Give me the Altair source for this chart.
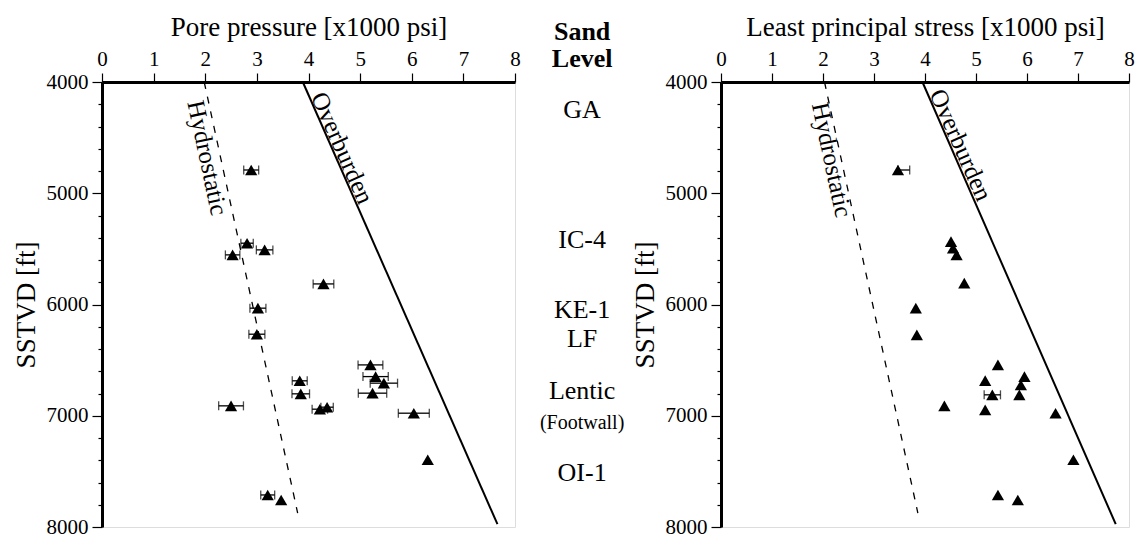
import altair as alt
import pandas as pd

# ---------------- data ----------------
# Left panel: pore pressure [x1000 psi] vs depth [ft]
pp_depth = [4791, 5449, 5509, 5554, 5815, 6033, 6267, 6543, 6648, 6686,
            6707, 6797, 6803, 6911, 6923, 6941, 6977, 7396, 7712, 7757]
pp_value = [2.89, 2.81, 3.15, 2.53, 4.29, 3.02, 3.00, 5.20, 5.30, 3.83,
            5.46, 5.24, 3.85, 2.50, 4.36, 4.22, 6.04, 6.31, 3.21, 3.47]
pp_err = [0.145, 0.12, 0.16, 0.14, 0.20, 0.155, 0.155, 0.24, 0.245, 0.145,
          0.265, 0.275, 0.17, 0.24, 0.12, 0.15, 0.30, 0.0, 0.135, 0.0]

# Right panel: least principal stress [x1000 psi] vs depth [ft]
ls_depth = [4791, 5435, 5494, 5554, 5808, 6033, 6273, 6543, 6648, 6684,
            6723, 6812, 6812, 6911, 6947, 6977, 7396, 7712, 7757]
ls_value = [3.47, 4.51, 4.55, 4.62, 4.77, 3.82, 3.84, 5.43, 5.95, 5.18,
            5.88, 5.85, 5.32, 4.38, 5.18, 6.56, 6.91, 5.43, 5.82]
ls_err_minus = [0.0, 0, 0, 0, 0, 0, 0, 0, 0, 0, 0, 0, 0.16, 0, 0, 0, 0, 0, 0]
ls_err_plus = [0.23, 0, 0, 0, 0, 0, 0, 0, 0, 0, 0, 0, 0.16, 0, 0, 0, 0, 0, 0]

# Reference gradient lines
line_names = ["Hydrostatic", "Hydrostatic", "Overburden", "Overburden"]
line_depth = [4000, 7875, 4000, 7975]
left_line_x = [1.98, 3.79, 3.89, 7.66]
right_line_x = [2.03, 3.86, 3.95, 7.74]

# Line labels
label_text = ["Hydrostatic", "Overburden"]
label_angle = [78, 66]
left_label_x = [2.04, 4.65]
left_label_depth = [4683, 4593]
right_label_x = [2.17, 4.70]
right_label_depth = [4700, 4566]

# Sand level column
sand_labels = ["Sand", "Level", "GA", "IC-4", "KE-1", "LF", "Lentic", "(Footwall)", "OI-1"]
sand_depth = [3548, 3793, 4252, 5420, 6050, 6310, 6782, 7067, 7516]
sand_kind = ["head", "head", "name", "name", "name", "name", "name", "small", "name"]
sand_x = 9.3

# ---------------- tables ----------------
pp = pd.DataFrame({"x": pp_value, "depth": pp_depth, "err": pp_err})
pp["lo"] = pp["x"] - pp["err"]
pp["hi"] = pp["x"] + pp["err"]
pp_bars = pp[pp["err"] > 0]

ls = pd.DataFrame({"x": ls_value, "depth": ls_depth,
                   "em": ls_err_minus, "ep": ls_err_plus})
ls["lo"] = ls["x"] - ls["em"]
ls["hi"] = ls["x"] + ls["ep"]
ls_bars = ls[(ls["em"] + ls["ep"]) > 0]

left_lines = pd.DataFrame({"name": line_names, "depth": line_depth, "x": left_line_x})
right_lines = pd.DataFrame({"name": line_names, "depth": line_depth, "x": right_line_x})

left_labels = pd.DataFrame({"text": label_text, "angle": label_angle,
                            "x": left_label_x, "depth": left_label_depth})
right_labels = pd.DataFrame({"text": label_text, "angle": label_angle,
                             "x": right_label_x, "depth": right_label_depth})

sand = pd.DataFrame({"text": sand_labels, "depth": sand_depth, "kind": sand_kind})
sand["x"] = sand_x

FONT = "Liberation Serif"
xscale = alt.Scale(domain=[0, 8], nice=False)
yscale = alt.Scale(domain=[4000, 8000], reverse=True, nice=False)


def make_x_axis(title):
    return alt.Axis(
        orient="top", title=title, format="d",
        values=[v / 2 for v in range(0, 17)],
        labelExpr="datum.value % 1 === 0 ? datum.label : ''",
        tickSize={"condition": {"test": "datum.value % 1 === 0", "value": 9}, "value": 5},
        labelFlush=False, labelOverlap=False, grid=False,
        labelPadding=4, titlePadding=7,
    )


y_axis = alt.Axis(
    title="SSTVD [ft]", format="d",
    values=list(range(4000, 8001, 200)),
    labelExpr="datum.value % 1000 === 0 ? datum.label : ''",
    tickSize={"condition": {"test": "datum.value % 1000 === 0", "value": 10}, "value": 4},
    labelOverlap=False, grid=False, labelPadding=4, titlePadding=6,
)


def panel(points, bars, lines, labels, title, width, extra=None):
    xa = make_x_axis(title)

    def X(f):
        return alt.X(f"{f}:Q", scale=xscale, axis=xa)

    Y = alt.Y("depth:Q", scale=yscale, axis=y_axis)

    hydro = alt.Chart(lines).transform_filter(alt.datum.name == "Hydrostatic").mark_line(
        color="black", strokeWidth=1.3, strokeDash=[7, 8]
    ).encode(x=X("x"), y=Y)
    over = alt.Chart(lines).transform_filter(alt.datum.name == "Overburden").mark_line(
        color="black", strokeWidth=2
    ).encode(x=X("x"), y=Y)

    lab_layers = []
    for i in range(len(labels)):
        row = labels.iloc[[i]]
        lab_layers.append(
            alt.Chart(row).mark_text(
                font=FONT, fontSize=25, angle=int(row["angle"].iloc[0]),
                align="center", baseline="middle", color="black"
            ).encode(x=X("x"), y=Y, text="text:N")
        )

    bar_rule = alt.Chart(bars).mark_rule(color="black", strokeWidth=1.3).encode(
        x=X("lo"), x2="hi", y=Y
    )
    cap_lo = alt.Chart(bars).mark_tick(orient="vertical", size=9, thickness=1.3,
                                       color="black").encode(x=X("lo"), y=Y)
    cap_hi = alt.Chart(bars).mark_tick(orient="vertical", size=9, thickness=1.3,
                                       color="black").encode(x=X("hi"), y=Y)
    pts = alt.Chart(points).mark_point(
        shape="triangle-up", filled=True, size=150, color="black", opacity=1
    ).encode(x=X("x"), y=Y)

    layers = [hydro, over] + lab_layers + [bar_rule, cap_lo, cap_hi, pts]
    if extra is not None:
        head = alt.Chart(extra).transform_filter(alt.datum.kind == "head").mark_text(
            font=FONT, fontSize=26, fontWeight="bold", color="black",
            align="center", baseline="middle"
        ).encode(x=X("x"), y=Y, text="text:N")
        name = alt.Chart(extra).transform_filter(alt.datum.kind == "name").mark_text(
            font=FONT, fontSize=26, color="black", align="center", baseline="middle"
        ).encode(x=X("x"), y=Y, text="text:N")
        small = alt.Chart(extra).transform_filter(alt.datum.kind == "small").mark_text(
            font=FONT, fontSize=20, color="black", align="center", baseline="middle"
        ).encode(x=X("x"), y=Y, text="text:N")
        layers += [head, name, small]
    return alt.layer(*layers).properties(width=width, height=445)


left = panel(pp, pp_bars, left_lines, left_labels, "Pore pressure [x1000 psi]", 413, sand)
right = panel(ls, ls_bars, right_lines, right_labels, "Least principal stress [x1000 psi]", 408)

chart = alt.hconcat(left, right, spacing=206, bounds="flush").configure_view(
    stroke=None
).configure(font=FONT, padding={"left": 3, "top": 4, "right": 0, "bottom": 0}).configure_axis(
    labelFont=FONT, titleFont=FONT, labelFontSize=21, titleFontSize=27,
    titleFontWeight="normal", labelColor="black", titleColor="black",
    domainColor="black", domainWidth=3, tickColor="black", tickWidth=1.2,
)

chart.save("out.html", embed_options={"renderer": "svg", "actions": False})
